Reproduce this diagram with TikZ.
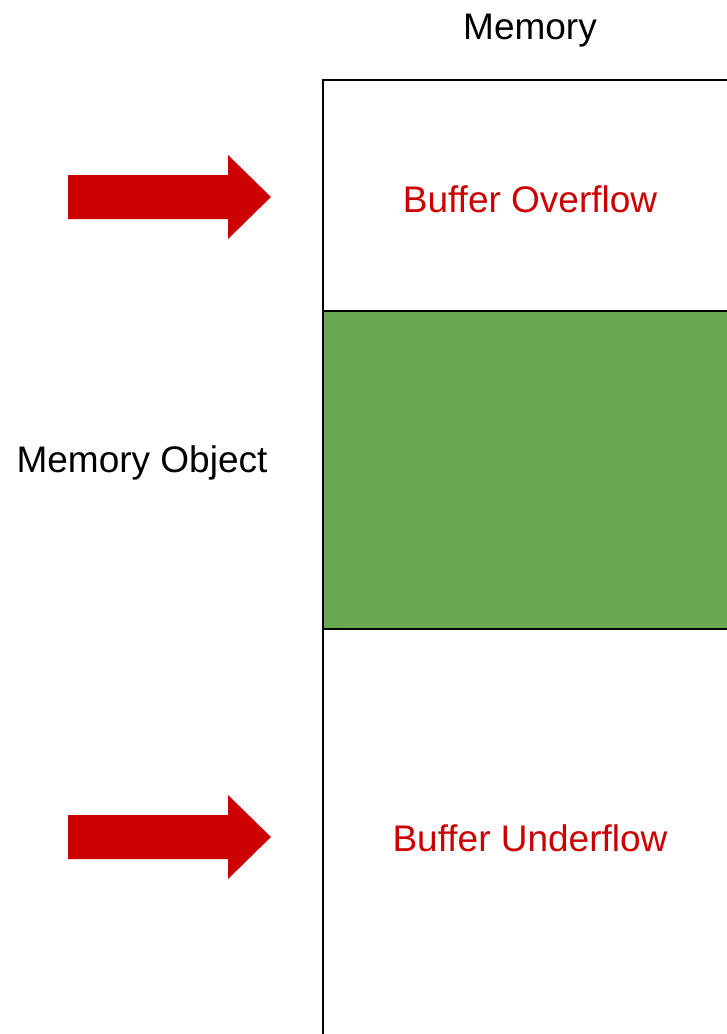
\documentclass[tikz,border=0pt]{standalone}
\usepackage{fontspec}
\setmainfont{Liberation Sans}
\definecolor{arrowred}{HTML}{CC0000}
\definecolor{objgreen}{HTML}{6AA84F}
\tikzset{
  lbl/.style={font=\fontsize{37}{44}\selectfont, text=black, inner sep=0pt, text depth=0pt, anchor=center},
  redlbl/.style={lbl, text=arrowred},
  frame/.style={draw=black, line width=1.6pt},
  bigarrow/.style={fill=arrowred, draw=none},
}
\begin{document}
\begin{tikzpicture}[x=1pt,y=-1pt]
\useasboundingbox (0,0) rectangle (727,1034);
\clip (0,0) rectangle (727,1034);
% green memory object
\fill[objgreen] (323,311) rectangle (740,629);
\draw[frame] (323,311) -- (740,311);
\draw[frame] (323,629) -- (740,629);
% memory frame
\draw[frame] (740,80) -- (323,80) -- (323,1050);
% texts
\node[lbl] (mem) at (530,27) {Memory};
\node[redlbl] (over) at (530,199) {Buffer Overflow};
\node[lbl] (obj) at (142,459) {Memory Object};
\node[redlbl] (under) at (530,838) {Buffer Underflow};
% arrows
\fill[bigarrow] (68,175) -- (228,175) -- (228,155) -- (271,197) -- (228,239) -- (228,219) -- (68,219) -- cycle;
\fill[bigarrow] (68,815) -- (228,815) -- (228,795) -- (271,837) -- (228,879) -- (228,859) -- (68,859) -- cycle;
\end{tikzpicture}
\end{document}
